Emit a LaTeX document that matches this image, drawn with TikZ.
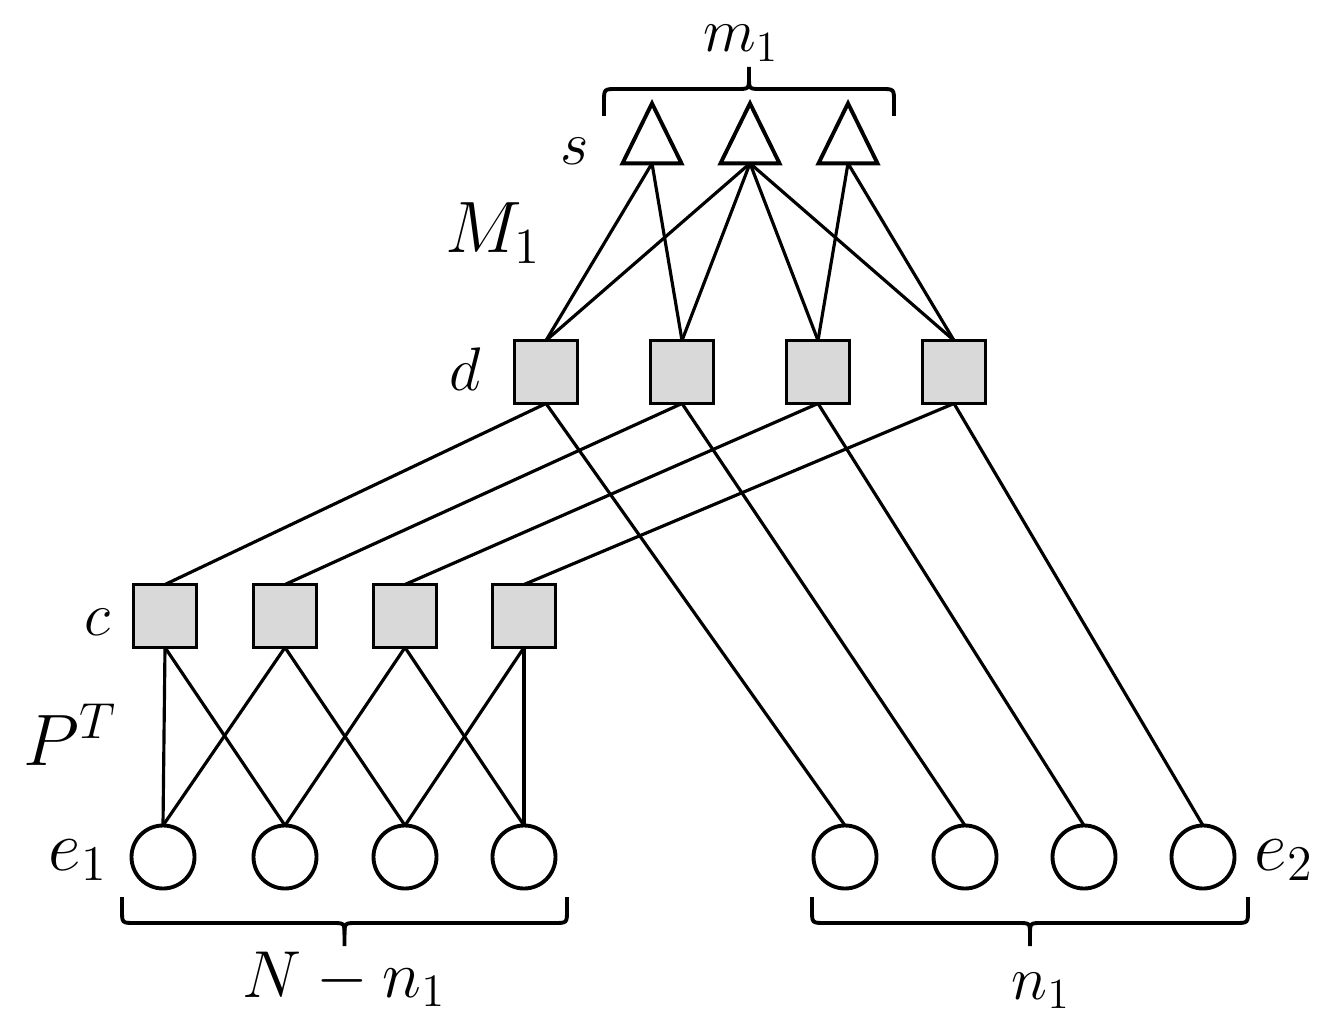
\RequirePackage{fix-cm}
\documentclass[tikz,border=0pt]{standalone}
\usetikzlibrary{shapes.geometric}
\begin{document}
\begin{tikzpicture}[x=0.1mm,y=-0.1mm,
  edge/.style={line width=0.9pt},
  sbox/.style={draw,line width=1.1pt,fill=black!15,minimum size=6.3mm,inner sep=0pt,outer sep=0pt},
  ecirc/.style={draw,circle,line width=1.1pt,minimum size=6.3mm,inner sep=0pt,outer sep=0pt},
  tri/.style={draw,isosceles triangle,isosceles triangle stretches,shape border rotate=90,minimum width=5.9mm,minimum height=6.0mm,inner sep=0pt,outer sep=0pt,line width=1.1pt},
  lab/.style={inner sep=0pt,font=\fontsize{17.5}{21}\selectfont},
  elab/.style={inner sep=0pt,font=\fontsize{20.3}{24}\selectfont},
  biglab/.style={inner sep=0pt,font=\fontsize{20.74}{25}\selectfont},
  midlab/.style={inner sep=0pt,font=\fontsize{18.9}{23}\selectfont},
  brc/.style={line width=1.1pt}
]
\useasboundingbox (0,0) rectangle (1333,1013);

% triangles s
\node[tri] (t1) at (652,145) {};
\node[tri] (t2) at (750,145) {};
\node[tri] (t3) at (848,145) {};

% d squares
\node[sbox] (d1) at (546,372) {};
\node[sbox] (d2) at (682,372) {};
\node[sbox] (d3) at (818,372) {};
\node[sbox] (d4) at (954,372) {};

% c squares
\node[sbox] (c1) at (165,616) {};
\node[sbox] (c2) at (285,616) {};
\node[sbox] (c3) at (405,616) {};
\node[sbox] (c4) at (524,616) {};

% e1 circles
\node[ecirc] (e1) at (163,857) {};
\node[ecirc] (e2) at (285,857) {};
\node[ecirc] (e3) at (405,857) {};
\node[ecirc] (e4) at (524,857) {};

% e2 circles
\node[ecirc] (f1) at (845,857) {};
\node[ecirc] (f2) at (965,857) {};
\node[ecirc] (f3) at (1084,857) {};
\node[ecirc] (f4) at (1203,857) {};

% edges s -- d
\draw[edge] (t1.south) -- (d1.north);
\draw[edge] (t1.south) -- (d2.north);
\draw[edge] (t2.south) -- (d1.north);
\draw[edge] (t2.south) -- (d2.north);
\draw[edge] (t2.south) -- (d3.north);
\draw[edge] (t2.south) -- (d4.north);
\draw[edge] (t3.south) -- (d3.north);
\draw[edge] (t3.south) -- (d4.north);

% edges d -- c and d -- e2
\draw[edge] (d1.south) -- (c1.north);
\draw[edge] (d2.south) -- (c2.north);
\draw[edge] (d3.south) -- (c3.north);
\draw[edge] (d4.south) -- (c4.north);
\draw[edge] (d1.south) -- (f1.north);
\draw[edge] (d2.south) -- (f2.north);
\draw[edge] (d3.south) -- (f3.north);
\draw[edge] (d4.south) -- (f4.north);

% edges c -- e1
\draw[edge] (c1.south) -- (e1.north);
\draw[edge] (c1.south) -- (e2.north);
\draw[edge] (c2.south) -- (e1.north);
\draw[edge] (c2.south) -- (e3.north);
\draw[edge] (c3.south) -- (e2.north);
\draw[edge] (c3.south) -- (e4.north);
\draw[edge] (c4.south) -- (e3.north);
\draw[edge] (c4.south) -- (e4.north);

% braces
\draw[brc] (604,116) -- (604,102) .. controls (604,89) .. (617,89) -- (737,89) .. controls (749,89) .. (749,77) -- (749,67);
\draw[brc] (894,116) -- (894,102) .. controls (894,89) .. (881,89) -- (761,89) .. controls (749,89) .. (749,77);

\draw[brc] (122,897) -- (122,910) .. controls (122,923) .. (135,923) -- (332,923) .. controls (344.5,923) .. (344.5,935) -- (344.5,946);
\draw[brc] (567,897) -- (567,910) .. controls (567,923) .. (554,923) -- (357,923) .. controls (344.5,923) .. (344.5,935);

\draw[brc] (812,897) -- (812,910) .. controls (812,923) .. (825,923) -- (1018,923) .. controls (1030,923) .. (1030,935) -- (1030,946);
\draw[brc] (1248,897) -- (1248,910) .. controls (1248,923) .. (1235,923) -- (1042,923) .. controls (1030,923) .. (1030,935);

% labels
\node[lab,anchor=base] (lm) at (741,52) {$m_1$};
\node[lab,anchor=base east] (ls) at (590,165) {$s$};
\node[biglab,anchor=base] (lM) at (493,253) {$M_1$};
\node[lab,anchor=base] (ld) at (465,391) {$d$};
\node[lab,anchor=base] (lc) at (97,635) {$c$};
\node[biglab,anchor=base west] (lP) at (23,765) {$P^T$};
\node[elab,anchor=base] (le1) at (78,870) {$e_1$};
\node[elab,anchor=base] (le2) at (1284,870) {$e_2$};
\node[midlab,anchor=base] (lN) at (344,997) {$N-n_1$};
\node[lab,anchor=base] (ln) at (1041,999) {$n_1$};
\end{tikzpicture}
\end{document}
